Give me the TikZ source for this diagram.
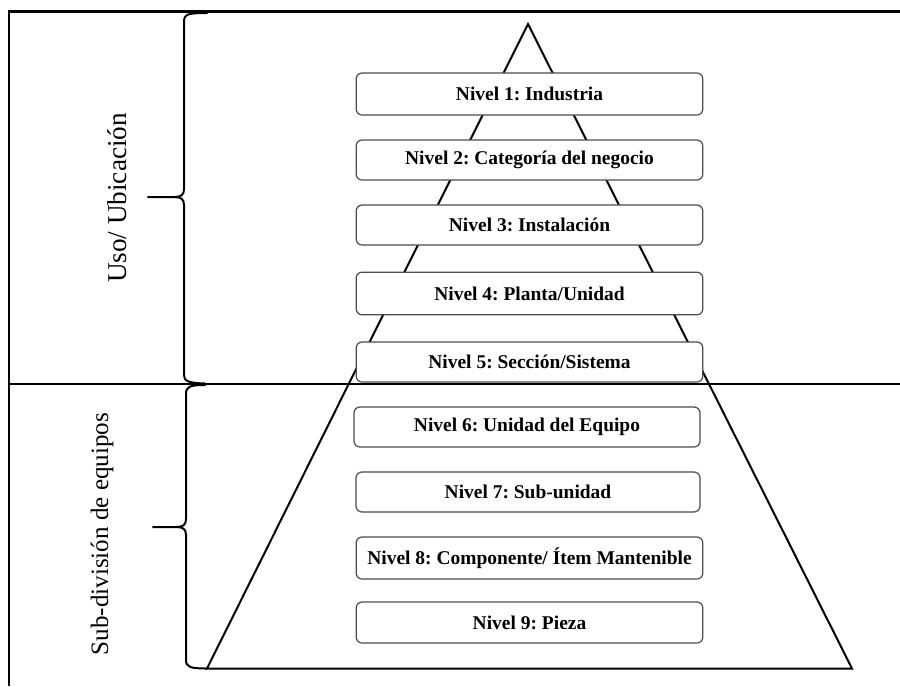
\documentclass[tikz,border=0pt]{standalone}
\usepackage{fontspec}
\setmainfont{Liberation Serif}
\frenchspacing
\begin{document}
\begin{tikzpicture}[x=0.75pt,y=-0.75pt,
  frame/.style={line width=2.1pt,black},
  divider/.style={line width=1.5pt,black},
  pyr/.style={line width=1.5pt,black,line join=miter},
  bracestyle/.style={line width=1.5pt,black,line cap=round},
  lvl/.style={draw=black!70,line width=0.9pt,fill=white,rounded corners=4.5pt,
    minimum width=260pt,minimum height=30pt,inner sep=0pt,
    font=\fontsize{14.6pt}{16pt}\selectfont\bfseries},
  side/.style={rotate=90,inner sep=0pt}]
\useasboundingbox (0,0) rectangle (900,686);
% frame
\draw[frame] (9,686) -- (9,11.5) -- (900,11.5);
\draw[divider] (9,384) -- (900,384);
% pyramid
\draw[pyr] (528,24) -- (852,668.5) -- (207,668.5) -- cycle;
% braces
\draw[bracestyle] (207,13) .. controls (188,13) and (184,14) .. (184,22)
  -- (184,189) .. controls (184,195) and (181,197) .. (174,197) -- (148,197);
\draw[bracestyle] (174,197) .. controls (181,197) and (184,199) .. (184,205)
  -- (184,375) .. controls (184,381) and (188,383) .. (205,383.5);
\draw[bracestyle] (205,385) .. controls (189,385) and (186,387) .. (186,394)
  -- (186,519) .. controls (186,525) and (183,527) .. (176,527) -- (153,527);
\draw[bracestyle] (176,527) .. controls (183,527) and (186,529) .. (186,535)
  -- (186,660) .. controls (186,667) and (190,668.5) .. (207,668.5);
% side labels
\node[side,font=\fontsize{20.4pt}{24pt}\selectfont] (uso) at (117.5,198) {Uso/ Ubicación};
\node[side,font=\fontsize{18.8pt}{22pt}\selectfont] (sub) at (102,534) {Sub-división de equipos};
% levels
\node[lvl,minimum height=31.5pt] (n1) at (529.5,94) {Nivel 1: Industria};
\node[lvl] (n2) at (529.5,160) {Nivel 2: Categoría del negocio};
\node[lvl] (n3) at (529.5,225) {Nivel 3: Instalación};
\node[lvl,minimum height=32pt] (n4) at (529.5,293.5) {Nivel 4: Planta/Unidad};
\node[lvl] (n5) at (529.5,362) {Nivel 5: Sección/Sistema};
\node[lvl,minimum width=259.5pt] (n6) at (527,427) {Nivel 6: Unidad del Equipo};
\node[lvl,minimum width=258pt] (n7) at (528,492) {Nivel 7: Sub-unidad};
\node[lvl,minimum height=31.5pt] (n8) at (529.5,558) {Nivel 8: Componente/ Ítem Mantenible};
\node[lvl,minimum height=30.75pt] (n9) at (529.5,622.5) {Nivel 9: Pieza};
\end{tikzpicture}
\end{document}
